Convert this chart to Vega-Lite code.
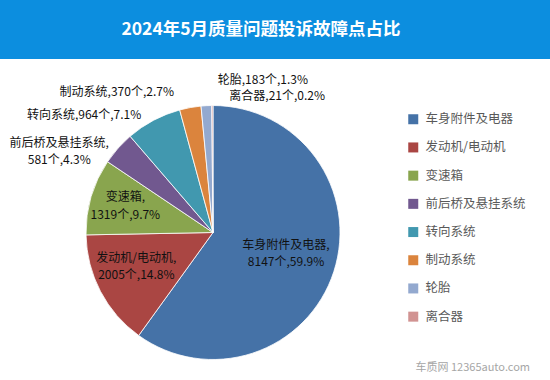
{
  "$schema": "https://vega.github.io/schema/vega-lite/v6.json",
  "padding": 0,
  "spacing": 14,
  "background": "white",
  "config": {
    "font": "Noto Sans CJK SC",
    "view": {"stroke": null},
    "text": {"font": "Noto Sans CJK SC", "fontSize": 12, "color": "#111111", "lineBreak": "\n", "lineHeight": 17.5}
  },
  "vconcat": [
    {
      "width": 550,
      "height": 59,
      "view": {"fill": "#0C8EDF", "stroke": null},
      "data": {"values": [{"t": "2024年5月质量问题投诉故障点占比"}]},
      "mark": {"type": "text", "color": "white", "fontSize": 17.5, "fontWeight": "bold", "dx": -14, "baseline": "middle", "align": "center"},
      "encoding": {"text": {"field": "t", "type": "nominal"}}
    },
    {
      "width": 426,
      "height": 257,
      "view": {"stroke": null},
      "title": {"text": "车质网 12365auto.com", "orient": "bottom", "anchor": "end", "dx": 104, "offset": 1, "fontSize": 11, "fontWeight": "normal", "color": "#a6a6a6", "font": "Noto Sans CJK SC"},
      "data": {"values": [
        {"idx": 1, "name": "车身附件及电器", "count": 8147, "label": "车身附件及电器,\n8147个,59.9%"},
        {"idx": 2, "name": "发动机/电动机", "count": 2005, "label": "发动机/电动机,\n2005个,14.8%"},
        {"idx": 3, "name": "变速箱", "count": 1319, "label": "变速箱,\n1319个,9.7%"},
        {"idx": 4, "name": "前后桥及悬挂系统", "count": 581, "label": "前后桥及悬挂系统,\n581个,4.3%"},
        {"idx": 5, "name": "转向系统", "count": 964, "label": "转向系统,964个,7.1%"},
        {"idx": 6, "name": "制动系统", "count": 370, "label": "制动系统,370个,2.7%"},
        {"idx": 7, "name": "轮胎", "count": 183, "label": "轮胎,183个,1.3%"},
        {"idx": 8, "name": "离合器", "count": 21, "label": "离合器,21个,0.2%"}
      ]},
      "encoding": {
        "theta": {"field": "count", "type": "quantitative", "stack": true},
        "order": {"field": "idx", "type": "quantitative", "sort": "ascending"}
      },
      "layer": [
        {
          "mark": {"type": "arc", "outerRadius": 127, "stroke": "white", "strokeWidth": 0.8},
          "encoding": {
            "color": {
              "field": "name", "type": "nominal",
              "scale": {
                "domain": ["车身附件及电器", "发动机/电动机", "变速箱", "前后桥及悬挂系统", "转向系统", "制动系统", "轮胎", "离合器"],
                "range": ["#4572A7", "#AA4643", "#89A54E", "#71588F", "#4198AF", "#DB843D", "#93A9CF", "#D19392"]
              },
              "legend": {
                "orient": "none", "legendX": 407, "legendY": 113, "title": null,
                "symbolType": "square", "symbolSize": 100, "symbolStrokeWidth": 0,
                "labelFontSize": 12.5, "labelFont": "Noto Sans CJK SC", "labelColor": "#595959",
                "labelOffset": 6, "rowPadding": 15.2, "padding": 0
              }
            }
          }
        },
        {
          "mark": {"type": "text", "radius": 82, "dx": -5, "dy": -13, "align": "center", "baseline": "middle"},
          "encoding": {"detail": {"field": "name", "type": "nominal"}, "text": {"condition": {"test": "datum.idx === 1", "field": "label", "type": "nominal"}, "value": ""}}
        },
        {
          "mark": {"type": "text", "radius": 82, "dx": -4, "dy": -13, "align": "center", "baseline": "middle"},
          "encoding": {"detail": {"field": "name", "type": "nominal"}, "text": {"condition": {"test": "datum.idx === 2", "field": "label", "type": "nominal"}, "value": ""}}
        },
        {
          "mark": {"type": "text", "radius": 82, "dx": -9, "dy": -12, "align": "center", "baseline": "middle"},
          "encoding": {"detail": {"field": "name", "type": "nominal"}, "text": {"condition": {"test": "datum.idx === 3", "field": "label", "type": "nominal"}, "value": ""}}
        },
        {
          "mark": {"type": "text", "radius": 140, "dx": -49, "dy": 3, "align": "center", "baseline": "middle"},
          "encoding": {"detail": {"field": "name", "type": "nominal"}, "text": {"condition": {"test": "datum.idx === 4", "field": "label", "type": "nominal"}, "value": ""}}
        },
        {
          "mark": {"type": "text", "radius": 140, "dx": -6, "dy": 6, "align": "right", "baseline": "middle"},
          "encoding": {"detail": {"field": "name", "type": "nominal"}, "text": {"condition": {"test": "datum.idx === 5", "field": "label", "type": "nominal"}, "value": ""}}
        },
        {
          "mark": {"type": "text", "radius": 140, "dx": -14, "dy": -3, "align": "right", "baseline": "middle"},
          "encoding": {"detail": {"field": "name", "type": "nominal"}, "text": {"condition": {"test": "datum.idx === 6", "field": "label", "type": "nominal"}, "value": ""}}
        },
        {
          "mark": {"type": "text", "radius": 140, "dx": 12, "dy": -13, "align": "left", "baseline": "middle"},
          "encoding": {"detail": {"field": "name", "type": "nominal"}, "text": {"condition": {"test": "datum.idx === 7", "field": "label", "type": "nominal"}, "value": ""}}
        },
        {
          "mark": {"type": "text", "radius": 140, "dx": 17, "dy": 3, "align": "left", "baseline": "middle"},
          "encoding": {"detail": {"field": "name", "type": "nominal"}, "text": {"condition": {"test": "datum.idx === 8", "field": "label", "type": "nominal"}, "value": ""}}
        }
      ]
    }
  ]
}
